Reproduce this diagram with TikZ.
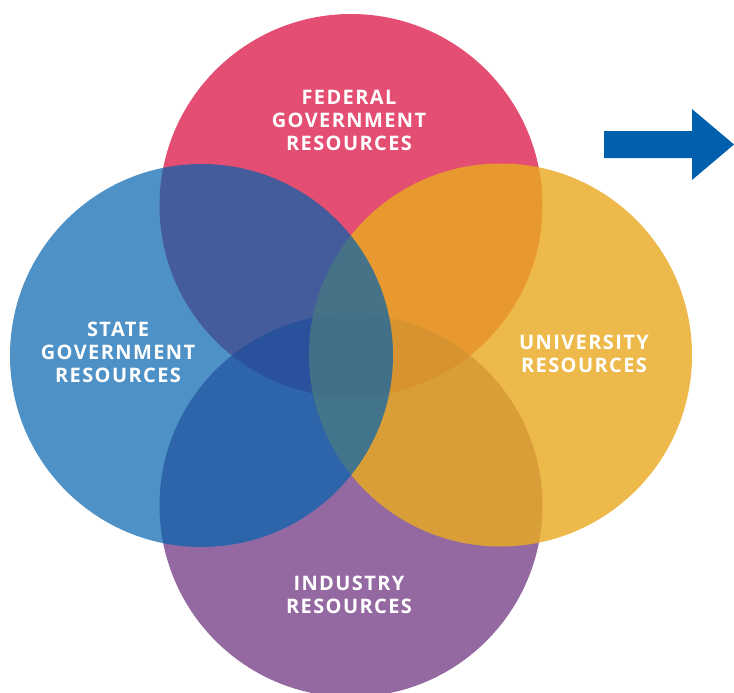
\documentclass[tikz,border=0pt]{standalone}
\usepackage{fontspec}
\setsansfont[LetterSpace=7]{Open Sans}
\usetikzlibrary{positioning}

\definecolor{fedpink}{HTML}{E34E72}
\definecolor{indpurple}{HTML}{5D1C72}
\definecolor{unigold}{HTML}{E9AA22}
\definecolor{stateblue}{HTML}{0262AE}
\definecolor{arrowblue}{HTML}{0060AD}

\tikzset{
  label text/.style={text=white,font=\sffamily\bfseries\fontsize{20}{23}\selectfont,align=center,inner sep=0pt},
}

\begin{document}
\begin{tikzpicture}[x=1pt,y=-1pt]
\useasboundingbox (0,0) rectangle (734,693);
% circles, back to front
\fill[fedpink] (351,205.5) circle (191.5);
\fill[indpurple,fill opacity=0.66] (351,505.5) circle (191.5);
\fill[unigold,fill opacity=0.82] (500.5,355) circle (191.5);
\fill[stateblue,fill opacity=0.70] (201.5,355.5) circle (191.5);
% labels
\node[label text] (federal) at (349,120) {FEDERAL\\GOVERNMENT\\RESOURCES};
\node[label text] (state) at (118,352) {STATE\\GOVERNMENT\\RESOURCES};
\node[label text] (university) at (584,354) {UNIVERSITY\\RESOURCES};
\node[label text] (industry) at (349,595) {INDUSTRY\\RESOURCES};
% arrow
\fill[arrowblue] (604,131) -- (692,131) -- (692,109) -- (734,144.5)
  -- (692,180) -- (692,158) -- (604,158) -- cycle;
\end{tikzpicture}
\end{document}
